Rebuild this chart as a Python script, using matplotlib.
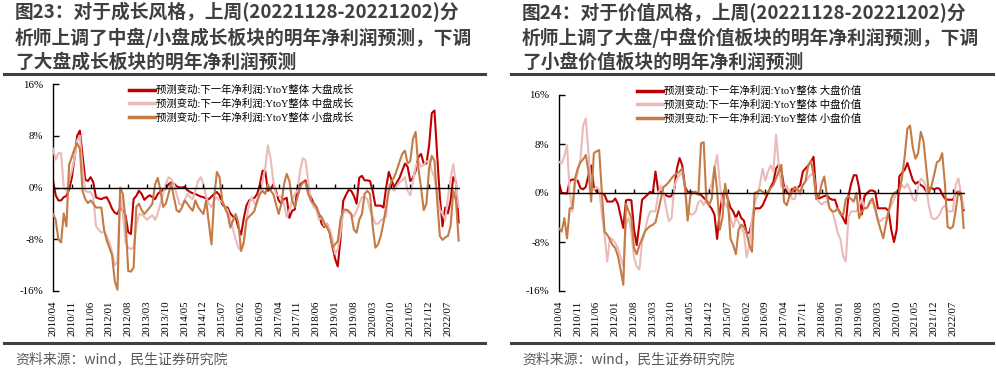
import numpy as np
import pandas as pd
import matplotlib
matplotlib.use("Agg")
import matplotlib.pyplot as plt
from matplotlib.lines import Line2D

plt.rcParams['font.family'] = ['Noto Sans CJK SC', 'DejaVu Sans']
plt.rcParams['axes.unicode_minus'] = False

# monthly grid, 2010-04 .. 2022-11
months = pd.period_range('2010-04', '2022-11', freq='M')
tick_labels = ['2010/04', '2010/11', '2011/06', '2012/01', '2012/08', '2013/03',
               '2013/10', '2014/05', '2014/12', '2015/07', '2016/02', '2016/09',
               '2017/04', '2017/11', '2018/06', '2019/01', '2019/08', '2020/03',
               '2020/10', '2021/05', '2021/12', '2022/07']

# 预测变动:下一年净利润:YtoY整体 (%) - 成长
growth_big = [1.1, -1.2, -2.0, -2.0, -1.5, -1.3, -0.3, 1.5, 4.5, 8.0,
              8.8, 5.0, 1.2, 1.0, 1.6, 0.8, -1.5, -1.7, -1.8, -1.6,
              -1.5, -2.3, -3.3, -3.9, -4.1, -3.1, -3.6, -4.3, -6.9, -7.2,
              -1.8, -1.3, -0.5, -1.0, -1.9, -1.5, -1.2, -1.5, -1.8, -1.0,
              -0.6, -0.4, -0.2, 0.5, 0.8, 0.6, 0.2, 0.0, 0.0, 0.1,
              -0.4, -0.7, -0.9, -1.0, -1.2, -1.4, -1.5, -1.7, -1.8, -1.4,
              -1.0, -0.7, -1.2, -2.6, -3.0, -3.1, -4.0, -4.5, -4.7, -6.2,
              -7.3, -4.8, -2.8, -2.0, -1.8, -1.6, -1.0, 0.5, 2.6, 2.5,
              -0.5, -0.3, 0.5, -0.5, -2.0, -2.5, -1.8, -1.6, -4.7, -3.6,
              -3.4, 0.0, 0.5, 0.8, 1.1, -0.5, -1.5, -2.4, -3.0, -4.1,
              -5.6, -6.1, -5.6, -7.0, -9.0, -11.0, -12.2, -8.0, -2.1, -1.2,
              -0.4, -0.5, -1.3, -2.5, 1.5, 1.8, 1.1, 1.1, 1.0, -0.5,
              -2.8, -2.8, -2.8, -3.1, 0.0, 2.4, 1.2, 0.0, 0.8, 1.5,
              2.6, 3.7, 3.2, 1.0, 1.5, 2.6, 4.7, 5.2, 3.7, 3.7,
              6.5, 11.5, 11.9, 5.0, -1.5, -6.0, -3.1, -4.0, -2.0, 1.6, 0.8, -5.4]
growth_mid = [6.0, 4.3, 5.3, 5.3, 0.0, -0.5, 1.0, 2.6, 4.5, 7.3,
              8.0, 3.0, -0.5, -0.7, -0.7, -1.5, -6.0, -6.5, -7.0, -6.8,
              -7.5, -8.5, -10.0, -12.0, -11.5, -1.0, -4.0, -8.5, -9.3, -9.5,
              -9.3, -6.0, -4.1, -4.2, -4.5, -5.0, -4.6, -4.3, -5.0, -4.0,
              -2.5, -1.0, 0.5, 1.6, 1.3, 0.5, -1.0, -2.5, -2.8, -2.0,
              -1.0, -1.5, -1.8, -0.5, 1.0, 1.6, 0.5, -1.5, -2.5, -3.0,
              -2.0, -1.5, -2.0, -2.2, -3.0, -3.5, -5.0, -6.5, -8.0, -9.3,
              -9.8, -8.5, -5.0, -2.5, -1.5, -2.5, -2.5, -1.0, 1.0, 3.0,
              6.5, 4.5, 1.0, -1.0, -1.3, -1.5, -2.6, -4.6, -3.5, -2.0,
              -1.0, -0.5, 2.6, 4.5, 4.2, 1.0, -2.0, -3.0, -3.4, -5.0,
              -4.6, -5.9, -5.6, -6.5, -7.9, -10.3, -9.5, -7.0, -4.0, -3.6,
              -3.9, -4.1, -4.5, -3.6, -2.5, -1.5, -1.5, -1.8, -3.5, -4.5,
              -5.6, -5.6, -5.1, -4.8, -4.5, 0.5, 0.0, -0.5, 0.3, 0.8,
              1.1, 1.6, -0.5, -1.2, 1.0, 3.2, 4.1, 3.2, 3.5, 4.0,
              4.2, 2.6, 1.6, -1.0, -3.5, -4.1, -5.0, -1.5, 1.5, 3.6, 0.5, -3.0]
growth_small = [-4.1, -5.0, -8.0, -8.5, -4.0, -6.0, 3.5, 4.7, 6.0, 6.8,
                6.0, -0.5, -1.8, -2.4, -2.0, -2.5, -3.1, -3.1, -3.1, -6.5,
                -8.2, -9.3, -10.5, -14.5, -15.8, 0.0, -1.0, -5.0, -12.9, -13.0,
                -12.4, -3.0, -2.5, -3.5, -4.1, -3.6, -3.1, -2.5, 0.5, 1.5,
                -0.5, -3.0, -2.5, -1.0, 0.6, -1.5, -3.5, -3.8, -3.1, -2.0,
                -2.5, -3.1, -3.6, -2.0, -3.0, -3.6, -4.1, -2.0, -5.5, -8.8,
                -1.5, 2.4, 1.6, -2.0, -3.2, -4.1, -6.2, -5.1, -4.1, -5.5,
                -9.8, -8.5, -5.0, -4.5, -4.1, -3.6, -2.0, -1.0, -0.5, -1.0,
                0.5, -0.5, -1.0, -2.6, -4.1, -2.5, 0.5, 2.1, 1.0, -2.0,
                -3.0, -1.5, 0.0, 0.8, 0.8, -1.0, -2.0, -2.5, -3.0, -4.1,
                -4.6, -5.5, -6.2, -7.0, -9.3, -8.8, -8.3, -5.0, -3.5, -3.4,
                -3.6, -4.1, -6.5, -7.0, -5.0, -4.1, -1.0, -0.5, -1.0, -6.0,
                -9.3, -8.8, -7.5, -5.5, -3.0, -0.5, 1.0, 1.6, 2.7, 4.0,
                5.2, 5.7, 3.7, 4.1, 7.5, 8.6, 3.0, 0.0, -3.5, -2.5,
                3.0, 4.9, 4.1, -2.0, -7.5, -8.1, -7.7, -7.5, -6.0, -0.5, -2.0, -8.2]

# 预测变动:下一年净利润:YtoY整体 (%) - 价值
value_big = [1.6, 0.0, 0.0, -0.1, 2.0, 2.2, 2.2, 2.0, 0.8, 0.6,
             1.0, 2.9, 4.5, 1.0, 0.2, 0.0, -0.1, -0.3, -1.4, -1.4,
             -1.4, -0.9, -1.8, -3.8, -5.7, -1.2, -1.1, -1.2, -6.0, -8.5,
             -5.0, -1.1, -0.7, -0.3, 0.2, 0.0, 3.5, 0.4, 0.2, -0.1,
             -0.4, -0.6, -0.5, 0.5, 4.0, 5.7, 4.5, 1.0, 0.2, 0.2,
             0.1, 0.0, -0.2, -0.3, -0.8, -1.2, -2.0, -2.6, -3.5, -7.5,
             -3.0, -0.5, 0.6, -1.0, -2.4, -3.0, -4.1, -3.0, -4.1, -4.5,
             -6.5, -6.5, -4.8, -2.5, -2.5, -2.5, -2.0, -1.0, 0.0, 1.0,
             1.8, 4.0, 4.6, 3.5, 1.0, 0.2, -0.3, 0.7, 0.2, 0.8,
             1.3, 3.5, 4.0, 4.5, 5.1, 5.9, -0.3, -0.9, -0.7, -0.5,
             -0.4, -0.9, -1.1, -1.1, -2.5, -3.3, -4.1, -5.0, -0.5, 1.5,
             2.9, 2.9, 0.8, -3.5, -0.5, 0.0, 0.4, 0.4, 0.2, -2.5,
             -2.5, -2.5, -2.5, -3.0, -6.0, -8.0, -6.0, 2.7, 3.3, 3.8,
             4.9, 3.5, 2.1, 1.5, 1.8, 1.3, 1.0, 0.3, 0.8, 0.8,
             0.6, 0.8, 0.7, -0.2, -0.9, -1.1, -1.1, -1.1, 0.0, 0.2, -0.5, -2.8]
value_mid = [5.1, 4.8, 6.0, 7.8, 0.0, -3.0, 1.3, 3.5, 5.5, 11.0,
             12.2, 6.5, 1.0, 0.5, 1.0, 0.5, -3.5, -6.8, -11.2, -7.3,
             -7.6, -8.2, -9.0, -10.5, -12.0, -5.0, -4.1, -6.5, -10.5, -12.0,
             -12.5, -8.0, -6.4, -4.3, -3.0, -3.0, -3.0, -0.3, 1.2, 0.0,
             -2.5, -4.6, -4.1, 1.0, 2.3, 3.0, 3.2, 1.0, -3.0, -3.5,
             -3.5, -3.0, -1.5, -1.2, -2.0, -0.9, 0.5, 1.5, 4.0, 6.2,
             1.5, -2.0, -1.6, -2.5, -4.1, -5.6, -4.1, -4.8, -5.6, -6.5,
             -10.5, -8.5, -4.3, -1.5, -0.5, 1.5, 4.0, 2.0, 3.5, 4.5,
             3.5, 9.5, 4.5, 1.0, 0.8, 1.2, 0.2, -1.0, -1.0, 0.8,
             -0.3, 1.3, 1.8, 2.5, 3.0, 3.2, -0.9, -1.4, -1.9, -1.5,
             -1.4, -2.5, -3.0, -4.6, -6.5, -7.5, -10.3, -11.2, -4.0, -3.0,
             -3.0, -3.0, -2.0, -1.0, -2.5, -2.5, -1.8, -1.4, -2.8, -4.3,
             -4.6, -4.1, -4.1, -3.0, -2.0, -1.0, 0.0, 0.5, 1.3, 0.8,
             1.5, 0.5, -0.9, -1.3, 1.0, 2.3, 2.0, 1.0, -2.0, -4.0,
             -4.3, -4.1, -3.5, -2.5, -2.0, -3.0, -3.0, -3.0, 1.3, 2.4, 0.0, -2.5]
value_small = [-5.8, -6.3, -4.1, -7.4, -2.5, -2.5, 2.4, 4.0, 5.0, 5.5,
               6.2, 3.5, -1.4, 6.5, 6.8, 7.0, 0.0, -6.3, -6.8, -7.6,
               -8.5, -9.0, -10.3, -12.5, -15.0, -1.8, -3.0, -4.0, -9.0, -10.0,
               -8.5, -7.5, -6.3, -5.8, -5.4, -5.2, -4.8, -3.0, -1.0, 1.0,
               1.3, 1.8, 2.4, 2.9, 3.2, 3.5, 4.0, 1.0, -4.5, -0.5,
               0.2, 0.2, -0.3, 8.1, 8.3, -1.4, -2.0, -0.9, 4.3, 0.5,
               -6.0, -4.0, 1.5, -1.0, -7.5, -8.5, -10.0, -6.0, -5.2, -5.5,
               -6.5, -8.5, -9.6, 0.0, 0.2, 0.5, 0.2, -0.3, 0.2, 0.8,
               1.3, 2.4, 3.5, 4.6, -1.5, -2.0, -0.5, 0.2, 1.0, 0.5,
               0.2, 1.3, 2.0, 4.5, 5.3, 3.0, -1.0, -0.5, 1.5, 2.7,
               -0.5, -2.5, -3.0, -3.0, -2.5, -3.5, -3.6, -1.0, -0.5, -1.0,
               -1.4, 0.0, -4.1, -3.0, -2.5, -2.4, -1.4, -0.9, -2.5, -4.5,
               -6.0, -7.4, -5.0, -3.0, -0.9, 0.0, 0.2, 0.3, 2.5, 6.0,
               10.5, 11.0, 7.5, 5.6, 6.5, 10.0, 8.5, 4.3, 0.0, 1.2,
               3.0, 5.0, 5.3, 6.5, 1.5, -5.5, -5.8, -5.5, -3.0, 0.3, 0.0, -5.7]

prefix = '预测变动:下一年净利润:YtoY整体 '
growth_names = [prefix + '大盘成长', prefix + '中盘成长', prefix + '小盘成长']
value_names = [prefix + '大盘价值', prefix + '中盘价值', prefix + '小盘价值']

titles = ['图23：对于成长风格，上周(20221128-20221202)分\n'
          '析师上调了中盘/小盘成长板块的明年净利润预测，下调\n'
          '了大盘成长板块的明年净利润预测',
          '图24：对于价值风格，上周(20221128-20221202)分\n'
          '析师上调了大盘/中盘价值板块的明年净利润预测，下调\n'
          '了小盘价值板块的明年净利润预测']
source = '资料来源：wind，民生证券研究院'

colors = ['#C00000', '#EBBABA', '#C47B45']
serif = ['Liberation Serif', 'Noto Sans CJK SC']
W, H = 996, 372

x = np.arange(len(months))
labels_all = list(months.strftime('%Y/%m'))
tick_pos = [labels_all.index(t) for t in tick_labels]

fig = plt.figure(figsize=(W / 100, H / 100), dpi=100)


def draw_panel(rect, series, names, leg_xy):
    ax = fig.add_axes(rect)
    # pink first, then red, then brown on top
    for i in [1, 0, 2]:
        ax.plot(x, series[i], color=colors[i], lw=1.5, zorder=2 + i)
    ax.set_xlim(0, 151.5)
    ax.set_ylim(-16, 16)
    ax.axhline(0, color='black', lw=1, zorder=6)
    ax.plot(tick_pos, np.zeros(len(tick_pos)), ls='none', marker=2, ms=3,
            mew=1, color='black', zorder=6)
    for s in ['top', 'right', 'bottom']:
        ax.spines[s].set_visible(False)
    ax.spines['left'].set_linewidth(1)
    ax.set_yticks([-16, -8, 0, 8, 16])
    ax.set_yticklabels(['-16%', '-8%', '0%', '8%', '16%'])
    ax.tick_params(axis='y', direction='in', length=4, width=1, pad=7)
    ax.set_xticks(tick_pos)
    ax.set_xticklabels(tick_labels, rotation=90)
    ax.tick_params(axis='x', length=0, pad=7)
    for lab in ax.get_xticklabels() + ax.get_yticklabels():
        lab.set_family(serif)
        lab.set_fontsize(7.8)
    handles = [Line2D([], [], color=c, lw=2.5) for c in colors]
    fig.legend(handles, names, loc='upper left',
               bbox_to_anchor=(leg_xy[0] / W, 1 - leg_xy[1] / H),
               frameon=False, borderpad=0, borderaxespad=0,
               handlelength=2.5, handletextpad=0.1, labelspacing=0.35,
               prop={'family': serif, 'size': 7.5})
    return ax


draw_panel([53 / W, (H - 291) / H, 407 / W, 207 / H],
           [growth_big, growth_mid, growth_small], growth_names, (129, 85))
draw_panel([559 / W, (H - 291) / H, 406 / W, 196 / H],
           [value_big, value_mid, value_small], value_names, (637, 86))

for x0, x1, tx, title in [(4, 485, 15, titles[0]), (511, 993, 522, titles[1])]:
    fig.text(tx / W, 1 - 2 / H, title, ha='left', va='top', fontsize=13.5,
             weight='bold', color='#3F3F3F', linespacing=1.33)
    fig.add_artist(Line2D([x0 / W, x1 / W], [1 - 74 / H, 1 - 74 / H],
                          transform=fig.transFigure, color='#404040', lw=2.2))
    fig.add_artist(Line2D([x0 / W, x1 / W], [1 - 343 / H, 1 - 343 / H],
                          transform=fig.transFigure, color='#404040', lw=2.2))
    fig.text(tx / W, 1 - 359 / H, source, ha='left', va='center',
             fontsize=10, color='#595959')

fig.savefig('out.png', dpi=100)
